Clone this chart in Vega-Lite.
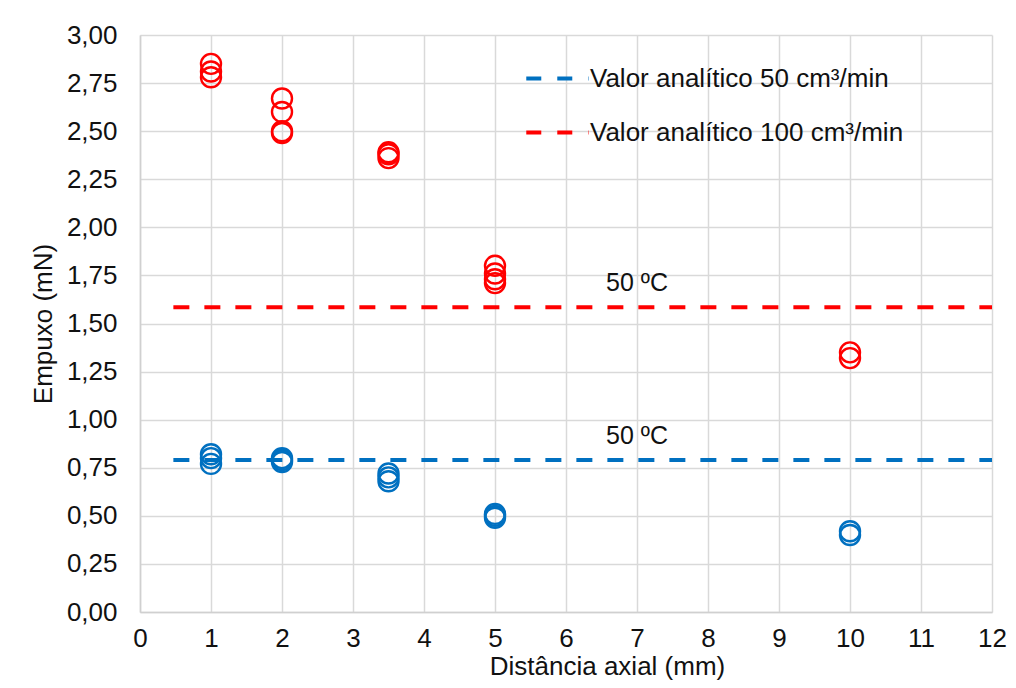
{
  "$schema": "https://vega.github.io/schema/vega-lite/v6.json",
  "width": 852,
  "height": 577,
  "autosize": "none",
  "padding": {"left": 140, "top": 35, "right": 24, "bottom": 76},
  "background": "white",
  "config": {
    "font": "Liberation Sans",
    "view": {"stroke": null},
    "axis": {
      "gridColor": "#d9d9d9",
      "gridWidth": 1.5,
      "domainColor": "#d0d0d0",
      "domainWidth": 1.5,
      "ticks": false,
      "labelFlush": false,
      "labelOverlap": false,
      "labelFontSize": 26,
      "labelColor": "#111111",
      "titleFontSize": 26,
      "titleFontWeight": "normal",
      "titleColor": "#111111"
    }
  },
  "datasets": {
    "pontos": [
      {"serie": "50 cm³/min", "distancia": 1, "empuxo": 0.82},
      {"serie": "50 cm³/min", "distancia": 1, "empuxo": 0.80},
      {"serie": "50 cm³/min", "distancia": 1, "empuxo": 0.77},
      {"serie": "50 cm³/min", "distancia": 2, "empuxo": 0.80},
      {"serie": "50 cm³/min", "distancia": 2, "empuxo": 0.79},
      {"serie": "50 cm³/min", "distancia": 2, "empuxo": 0.78},
      {"serie": "50 cm³/min", "distancia": 3.5, "empuxo": 0.72},
      {"serie": "50 cm³/min", "distancia": 3.5, "empuxo": 0.70},
      {"serie": "50 cm³/min", "distancia": 3.5, "empuxo": 0.68},
      {"serie": "50 cm³/min", "distancia": 5, "empuxo": 0.51},
      {"serie": "50 cm³/min", "distancia": 5, "empuxo": 0.50},
      {"serie": "50 cm³/min", "distancia": 5, "empuxo": 0.49},
      {"serie": "50 cm³/min", "distancia": 10, "empuxo": 0.42},
      {"serie": "50 cm³/min", "distancia": 10, "empuxo": 0.40},
      {"serie": "100 cm³/min", "distancia": 1, "empuxo": 2.85},
      {"serie": "100 cm³/min", "distancia": 1, "empuxo": 2.81},
      {"serie": "100 cm³/min", "distancia": 1, "empuxo": 2.78},
      {"serie": "100 cm³/min", "distancia": 2, "empuxo": 2.67},
      {"serie": "100 cm³/min", "distancia": 2, "empuxo": 2.60},
      {"serie": "100 cm³/min", "distancia": 2, "empuxo": 2.50},
      {"serie": "100 cm³/min", "distancia": 2, "empuxo": 2.49},
      {"serie": "100 cm³/min", "distancia": 3.5, "empuxo": 2.39},
      {"serie": "100 cm³/min", "distancia": 3.5, "empuxo": 2.38},
      {"serie": "100 cm³/min", "distancia": 3.5, "empuxo": 2.36},
      {"serie": "100 cm³/min", "distancia": 5, "empuxo": 1.80},
      {"serie": "100 cm³/min", "distancia": 5, "empuxo": 1.76},
      {"serie": "100 cm³/min", "distancia": 5, "empuxo": 1.73},
      {"serie": "100 cm³/min", "distancia": 5, "empuxo": 1.71},
      {"serie": "100 cm³/min", "distancia": 10, "empuxo": 1.35},
      {"serie": "100 cm³/min", "distancia": 10, "empuxo": 1.32}
    ],
    "linhas": [
      {"serie": "Valor analítico 50 cm³/min", "inicio": 0.47, "fim": 12, "valor": 0.79},
      {"serie": "Valor analítico 100 cm³/min", "inicio": 0.47, "fim": 12, "valor": 1.585}
    ],
    "notas": [
      {"distancia": 7, "empuxo": 1.71, "texto": "50 ºC"},
      {"distancia": 7, "empuxo": 0.915, "texto": "50 ºC"}
    ]
  },
  "layer": [
    {
      "data": {"name": "linhas"},
      "mark": {"type": "rule", "strokeWidth": 4, "strokeDash": [16, 15]},
      "encoding": {
        "x": {
          "field": "inicio", "type": "quantitative",
          "scale": {"domain": [0, 12], "nice": false},
          "axis": {
            "values": [0,1,2,3,4,5,6,7,8,9,10,11,12],
            "format": "d",
            "title": "Distância axial (mm)",
            "labelPadding": 13,
            "titleX": 467, "titleY": 62, "titleAlign": "center", "titleBaseline": "alphabetic"
          }
        },
        "x2": {"field": "fim"},
        "y": {
          "field": "valor", "type": "quantitative",
          "scale": {"domain": [0, 3], "nice": false},
          "axis": {
            "values": [0,0.25,0.5,0.75,1,1.25,1.5,1.75,2,2.25,2.5,2.75,3],
            "labelExpr": "replace(format(datum.value, '.2f'), '.', ',')",
            "title": "Empuxo (mN)",
            "labelPadding": 23,
            "titlePadding": 10
          }
        },
        "color": {
          "field": "serie", "type": "nominal",
          "scale": {"domain": ["Valor analítico 50 cm³/min", "Valor analítico 100 cm³/min"], "range": ["#0070c0", "#ff0000"]},
          "legend": {
            "title": null,
            "orient": "none",
            "legendX": 384,
            "legendY": 10,
            "padding": 0,
            "symbolType": "stroke",
            "symbolSize": 3900,
            "symbolStrokeWidth": 4,
            "symbolDash": [15, 16],
            "labelFontSize": 26,
            "labelColor": "#111111",
            "labelOffset": -1,
            "labelLimit": 0,
            "rowPadding": 7
          }
        }
      }
    },
    {
      "data": {"name": "pontos"},
      "mark": {"type": "point", "shape": "circle", "filled": false, "size": 400, "strokeWidth": 2.4, "opacity": 1},
      "encoding": {
        "x": {"field": "distancia", "type": "quantitative"},
        "y": {"field": "empuxo", "type": "quantitative"},
        "color": {
          "field": "serie", "type": "nominal",
          "scale": {"domain": ["50 cm³/min", "100 cm³/min"], "range": ["#0070c0", "#ff0000"]},
          "legend": null
        }
      }
    },
    {
      "data": {"name": "notas"},
      "mark": {"type": "text", "fontSize": 25, "color": "#111111", "baseline": "middle", "align": "center"},
      "encoding": {
        "x": {"field": "distancia", "type": "quantitative"},
        "y": {"field": "empuxo", "type": "quantitative"},
        "text": {"field": "texto"}
      }
    }
  ],
  "resolve": {"scale": {"color": "independent"}, "legend": {"color": "independent"}}
}
